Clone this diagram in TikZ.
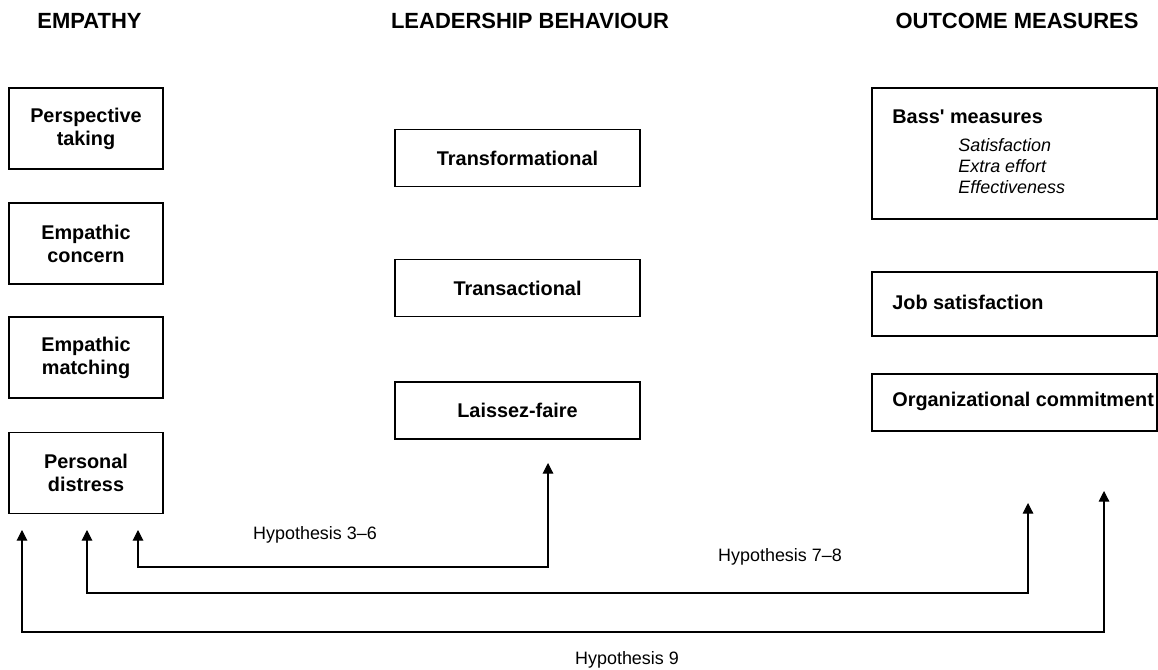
\documentclass[tikz,border=0pt]{standalone}
\usepackage{fontspec}
\setmainfont{Liberation Sans}
\usetikzlibrary{arrows.meta}
\usetikzlibrary{positioning}

\begin{document}
\begin{tikzpicture}[
	> = {Triangle[length=6pt,width=6pt]},
	line width=0.6pt,
	box/.style = {draw, font=\bfseries\fontsize{11.3}{13}\selectfont, align=center, inner sep=0pt},
	empbox/.style = {box, minimum width=3.08cm, minimum height=1.62cm},
	leadbox/.style = {box, minimum width=4.9cm, minimum height=1.14cm},
	outbox/.style = {box, minimum width=5.7cm},
	head/.style = {font=\bfseries\fontsize{11.3}{13}\selectfont},
	title/.style = {font=\bfseries\fontsize{12.5}{14}\selectfont},
	hyp/.style = {font=\fontsize{10.2}{12}\selectfont},
	sub/.style = {font=\itshape\fontsize{10.2}{11.95}\selectfont, align=left}
	]

	\useasboundingbox (0,0) rectangle (23.16,13.4);

	% column headings
	\node[title, anchor=west] (hemp) at (0.62,12.98) {EMPATHY};
	\node[title] (hlead) at (10.6,12.98) {LEADERSHIP BEHAVIOUR};
	\node[title] (hout) at (20.34,12.98) {OUTCOME MEASURES};

	% empathy
	\node[empbox] (pt) at (1.72,10.83) {Perspective\\taking};
	\node[empbox] (ec) at (1.72,8.53) {Empathic\\concern};
	\node[empbox] (em) at (1.72,6.25) {Empathic\\matching};
	\node[empbox] (pd) at (1.72,3.94) {Personal\\distress};

	% leadership behaviour
	\node[leadbox] (tf) at (10.35,10.24) {Transformational};
	\node[leadbox] (ta) at (10.35,7.64) {Transactional};
	\node[leadbox] (lf) at (10.35,5.19) {Laissez-faire};

	% outcome measures, text flush left
	\node[outbox, minimum height=2.62cm] (bass) at (20.29,10.33) {};
	\node[outbox, minimum height=1.28cm] (js) at (20.29,7.32) {};
	\node[outbox, minimum height=1.14cm] (oc) at (20.29,5.35) {};

	\node[head, anchor=west] (bassh) at (17.72,11.06) {Bass\textquotesingle\ measures};
	\node[sub, anchor=west] (bassl) at (19.04,10.08) {Satisfaction\\Extra effort\\Effectiveness};
	\node[head, anchor=west] (jst) at (17.72,7.36) {Job satisfaction};
	\node[head, anchor=west] (oct) at (17.72,5.37) {Organizational commitment};

	% arrow ends
	\coordinate (@e1) at (0.44,2.8);
	\coordinate (@e2) at (1.74,2.8);
	\coordinate (@e3) at (2.76,2.8);
	\coordinate (@lf) at (10.96,4.14);
	\coordinate (@js) at (20.56,3.34);
	\coordinate (@oc) at (22.08,3.58);

	\draw[<->] (@e3) -- ++(0,-0.74) -| (@lf);
	\draw[<->] (@e2) -- ++(0,-1.26) -| (@js);
	\draw[<->] (@e1) -- ++(0,-2.04) -| (@oc);

	\node[hyp] (h36) at (6.3,2.7) {Hypothesis 3--6};
	\node[hyp] (h78) at (15.6,2.26) {Hypothesis 7--8};
	\node[hyp] (h9) at (12.54,0.2) {Hypothesis 9};

\end{tikzpicture}
\end{document}
